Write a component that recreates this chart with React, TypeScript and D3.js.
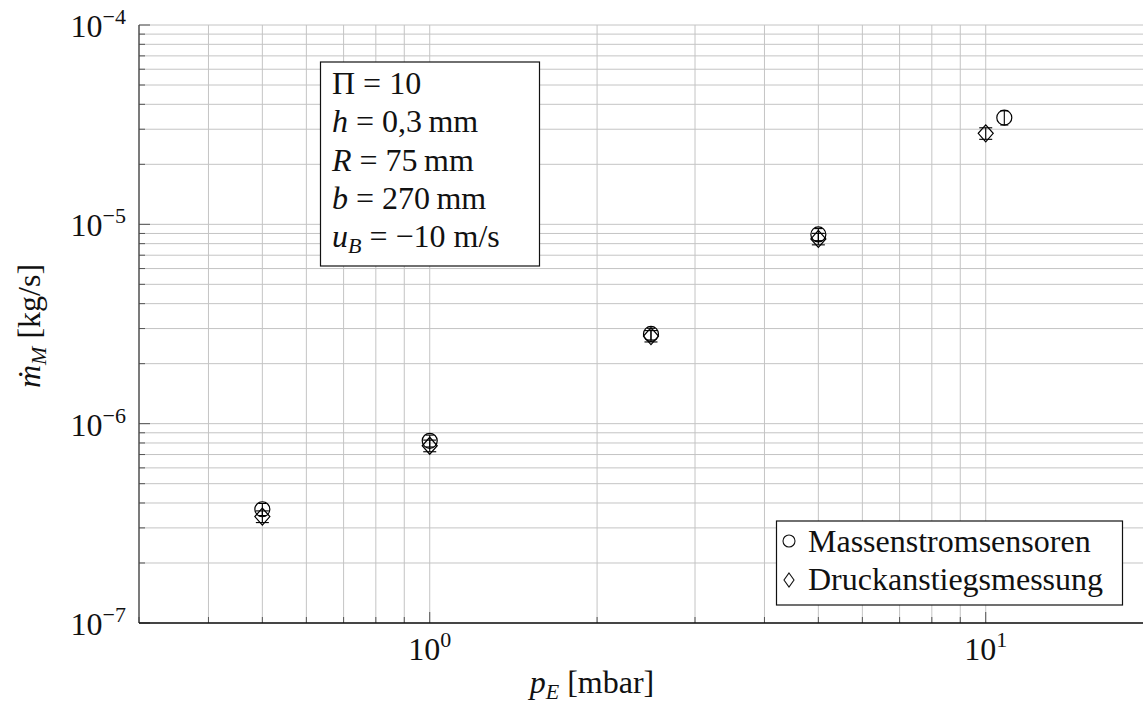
import React from "react";
import * as d3 from "d3";

// Measured mass flow vs. inlet pressure
const xMassen = [0.5, 1, 2.5, 5, 10.8];
const yMassen = [3.72e-7, 8.2e-7, 2.82e-6, 8.9e-6, 3.43e-5];
const errMassen = [2.6e-8, 5.6e-8, 1.9e-7, 6.2e-7, 2.8e-6];

const xDruck = [0.5, 1, 2.5, 5, 10];
const yDruck = [3.42e-7, 7.75e-7, 2.75e-6, 8.45e-6, 2.86e-5];
const errDruck = [2.3e-8, 5.2e-8, 1.8e-7, 5.6e-7, 1.9e-6];

const xMajorTicks = [1, 10];
const yMajorExponents = [-7, -6, -5, -4];
const legendLabels = ["Massenstromsensoren", "Druckanstiegsmessung"];

const W = 1143;
const H = 711;
const left = 139;
const top = 25;
const bottom = 623;
const decadeX = 556;

const FONT = '"Liberation Serif", "Times New Roman", Times, "DejaVu Serif", serif';

export default function App() {
  const x = d3
    .scaleLog()
    .domain([0.3, 20])
    .range([left, left + Math.log10(20 / 0.3) * decadeX]);
  const y = d3.scaleLog().domain([1e-7, 1e-4]).range([bottom, top]);

  const xGrid: number[] = [];
  for (let e = -1; e <= 1; e++) {
    for (let m = 1; m <= 9; m++) {
      const v = m * Math.pow(10, e);
      if (v >= 0.3 && v <= 20) xGrid.push(v);
    }
  }
  const yGrid: number[] = [];
  for (let e = -7; e <= -5; e++) {
    for (let m = 1; m <= 9; m++) yGrid.push(m * Math.pow(10, e));
  }
  yGrid.push(1e-4);

  const isMajor = (v: number) =>
    Math.abs(Math.log10(v) - Math.round(Math.log10(v))) < 1e-9;

  const gridColor = "#c4c4c4";

  const errorBar = (
    xv: number,
    yv: number,
    ev: number,
    cap: number,
    key: string
  ) => {
    const cx = x(xv);
    const y0 = y(yv - ev);
    const y1 = y(yv + ev);
    return (
      <g key={key} stroke="#000" strokeWidth={1.1}>
        <line x1={cx} x2={cx} y1={y0} y2={y1} />
        <line x1={cx - cap} x2={cx + cap} y1={y0} y2={y0} />
        <line x1={cx - cap} x2={cx + cap} y1={y1} y2={y1} />
      </g>
    );
  };

  const diamondPath = (cx: number, cy: number, hw: number, hh: number) =>
    `M${cx},${cy - hh}L${cx + hw},${cy}L${cx},${cy + hh}L${cx - hw},${cy}Z`;

  return (
    <svg
      width={W}
      height={H}
      style={{ position: "absolute", left: 0, top: 0, background: "#fff", fontFamily: FONT }}
    >
      <rect width={W} height={H} fill="#fff" />
      {/* grid */}
      <g stroke={gridColor} strokeWidth={1}>
        {xGrid.map((v) => (
          <line key={"gx" + v} x1={x(v)} x2={x(v)} y1={top} y2={bottom} />
        ))}
        {yGrid.map((v) => (
          <line key={"gy" + v} x1={left} x2={W} y1={y(v)} y2={y(v)} />
        ))}
      </g>
      {/* ticks */}
      <g stroke="#555" strokeWidth={1}>
        {xGrid.map((v) => (
          <line
            key={"tx" + v}
            x1={x(v)}
            x2={x(v)}
            y1={bottom}
            y2={bottom - (isMajor(v) ? 11 : 6)}
          />
        ))}
        {yGrid.map((v) => (
          <line
            key={"ty" + v}
            x1={left}
            x2={left + (isMajor(v) ? 11 : 6)}
            y1={y(v)}
            y2={y(v)}
          />
        ))}
      </g>
      {/* axis lines */}
      <line x1={left} x2={left} y1={top} y2={bottom} stroke="#444" strokeWidth={1.3} />
      <line x1={left} x2={W} y1={bottom} y2={bottom} stroke="#111" strokeWidth={1.3} />

      {/* tick labels */}
      <g fontSize={32} fill="#111">
        {xMajorTicks.map((v) => (
          <text key={"lx" + v} x={x(v)} y={660} textAnchor="middle">
            10
            <tspan fontSize={22} dy={-13}>
              {Math.round(Math.log10(v))}
            </tspan>
          </text>
        ))}
        {yMajorExponents.map((e) => (
          <text key={"ly" + e} x={126} y={y(Math.pow(10, e)) + 12} textAnchor="end">
            10
            <tspan fontSize={22} dy={-13}>
              {"\u2212" + Math.abs(e)}
            </tspan>
          </text>
        ))}
      </g>

      {/* axis titles */}
      <text x={592} y={693} fontSize={32} fill="#111" textAnchor="middle">
        <tspan fontStyle="italic">p</tspan>
        <tspan fontStyle="italic" fontSize={22} dy={6}>E</tspan>
        <tspan dy={-6}> [mbar]</tspan>
      </text>
      <text
        transform="translate(40,326) rotate(-90)"
        textAnchor="middle"
        fontSize={32}
        fill="#111"
      >
        <tspan fontStyle="italic">{"\u1E41"}</tspan>
        <tspan fontStyle="italic" fontSize={22} dy={6}>M</tspan>
        <tspan dy={-6}> [kg/s]</tspan>
      </text>

      {/* data: Massenstromsensoren */}
      {xMassen.map((xv, i) => errorBar(xv, yMassen[i], errMassen[i], 4, "em" + i))}
      {xMassen.map((xv, i) => (
        <circle
          key={"cm" + i}
          cx={x(xv)}
          cy={y(yMassen[i])}
          r={7.5}
          fill="none"
          stroke="#000"
          strokeWidth={1.2}
        />
      ))}
      {/* data: Druckanstiegsmessung */}
      {xDruck.map((xv, i) => errorBar(xv, yDruck[i], errDruck[i], 6.5, "ed" + i))}
      {xDruck.map((xv, i) => (
        <path
          key={"dd" + i}
          d={diamondPath(x(xv), y(yDruck[i]), 7.5, 8.5)}
          fill="none"
          stroke="#000"
          strokeWidth={1.2}
        />
      ))}

      {/* parameter box */}
      <rect x={320.5} y={62} width={219} height={204} fill="#fff" stroke="#111" strokeWidth={1.2} />
      <g fontSize={32} fill="#111">
        <text x={332} y={94}>
          {"\u03A0 = 10"}
        </text>
        <text x={332} y={132.3}>
          <tspan fontStyle="italic">h</tspan>
          {" = 0,3\u2009mm"}
        </text>
        <text x={332} y={170.6}>
          <tspan fontStyle="italic">R</tspan>
          {" = 75\u2009mm"}
        </text>
        <text x={332} y={208.9}>
          <tspan fontStyle="italic">b</tspan>
          {" = 270\u2009mm"}
        </text>
        <text x={332} y={247.2}>
          <tspan fontStyle="italic">u</tspan>
          <tspan fontStyle="italic" fontSize={22} dy={6}>B</tspan>
          <tspan dy={-6}>{" = \u221210 m/s"}</tspan>
        </text>
      </g>

      {/* legend */}
      <rect x={776.5} y={521} width={346} height={84} fill="#fff" stroke="#111" strokeWidth={1.2} />
      <circle cx={789} cy={541} r={6} fill="none" stroke="#111" strokeWidth={1.1} />
      <path d={diamondPath(789, 580, 5, 7)} fill="none" stroke="#111" strokeWidth={1.1} />
      <g fontSize={32} fill="#111">
        <text x={808} y={551.7}>{legendLabels[0]}</text>
        <text x={808} y={590}>{legendLabels[1]}</text>
      </g>
    </svg>
  );
}
